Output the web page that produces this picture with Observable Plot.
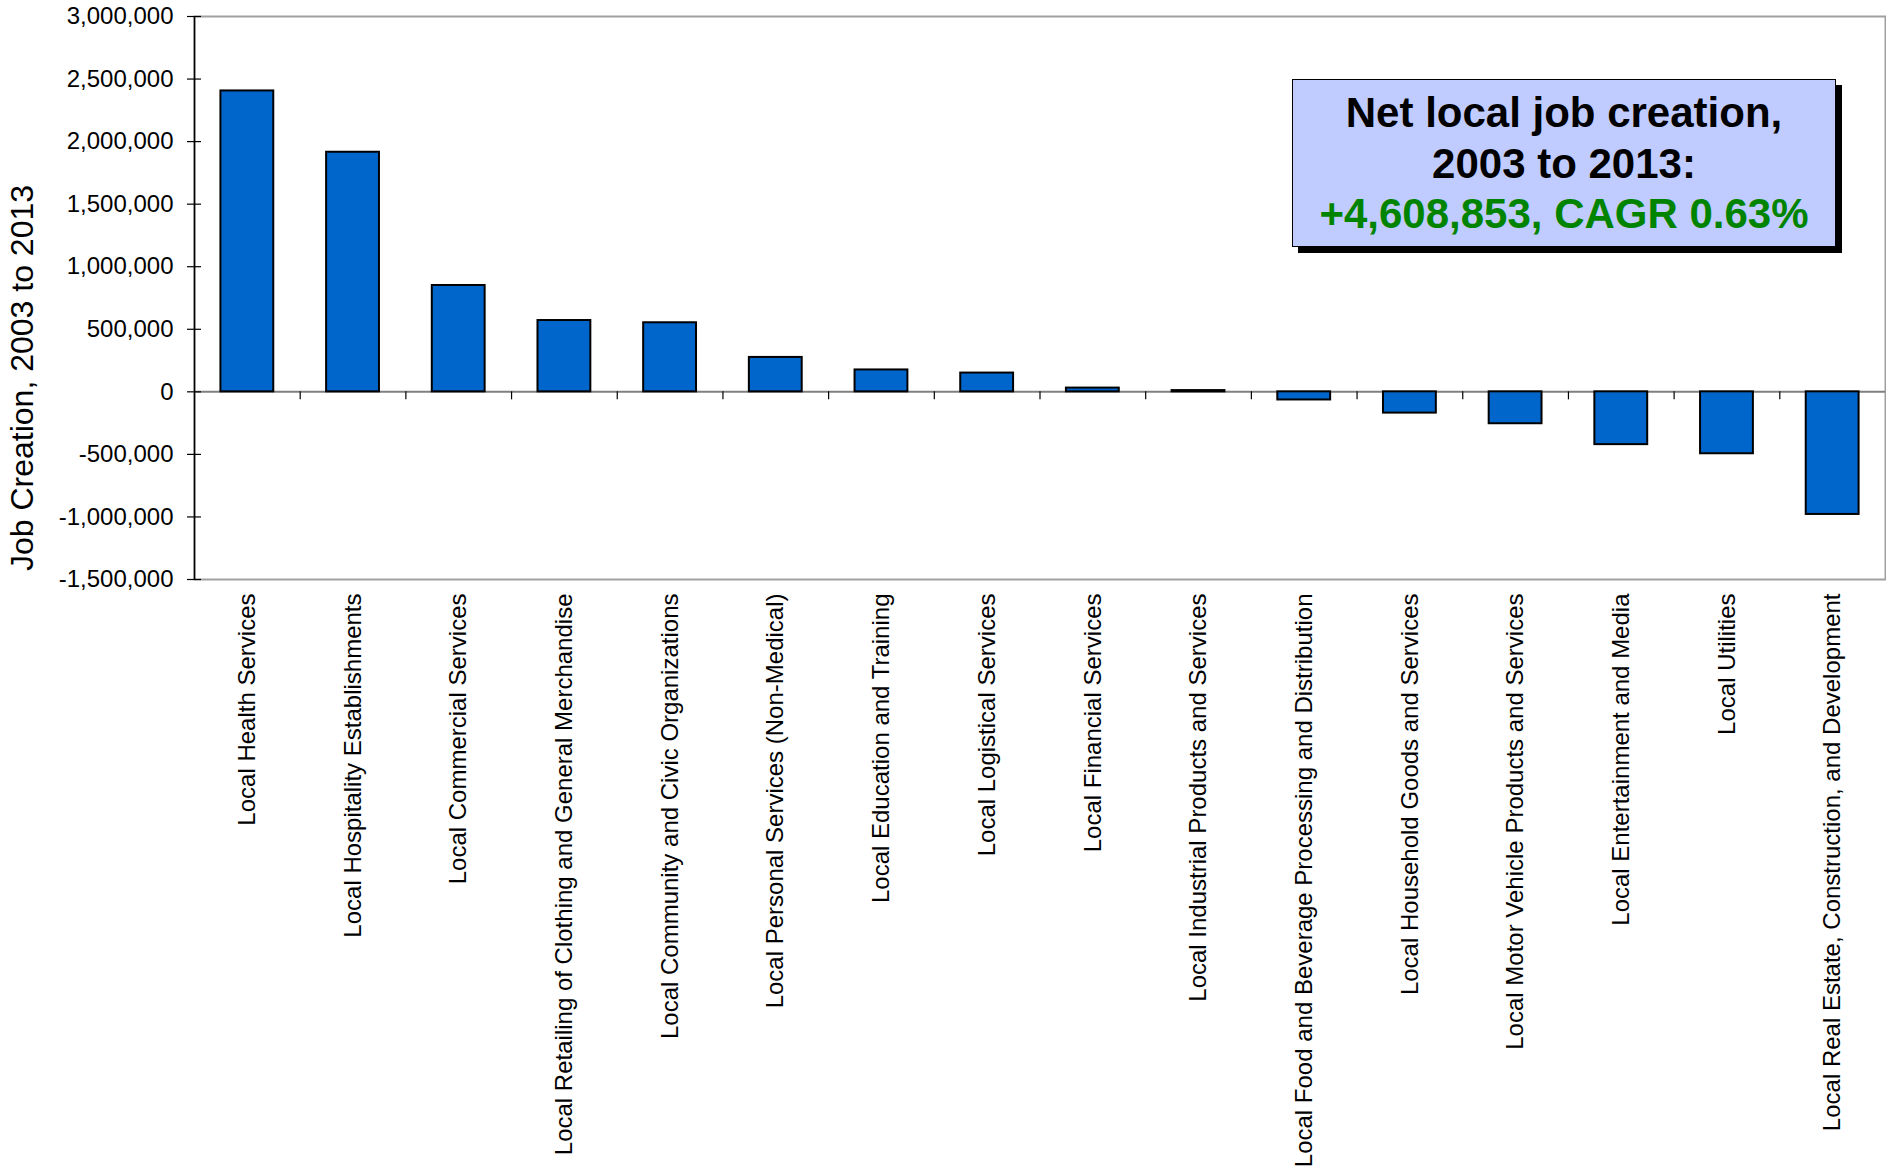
<!DOCTYPE html>
<html>
<head>
<meta charset="utf-8">
<script src="https://cdn.jsdelivr.net/npm/d3@7"></script>
<script src="https://cdn.jsdelivr.net/npm/@observablehq/plot@0.6"></script>
<style>
  html, body { margin: 0; padding: 0; background: white; overflow: hidden; }
  #wrap { position: relative; width: 1886px; height: 1168px; }
  #wrap svg { display: block; }
  #note {
    position: absolute; left: 1292px; top: 79px; width: 542px; height: 158px;
    background: #C0CCFF; border: 1.5px solid #000; box-shadow: 6px 6px 0 #000;
    font-family: "Liberation Sans", Arial, sans-serif; font-weight: bold; font-size: 42px;
    line-height: 50.5px; text-align: center; padding-top: 8px; box-sizing: content-box;
  }
  #note .g { color: #008400; }
</style>
</head>
<body>
<div id="wrap"></div>
<script>
const categories = [
  "Local Health Services",
  "Local Hospitality Establishments",
  "Local Commercial Services",
  "Local Retailing of Clothing and General Merchandise",
  "Local Community and Civic Organizations",
  "Local Personal Services (Non-Medical)",
  "Local Education and Training",
  "Local Logistical Services",
  "Local Financial Services",
  "Local Industrial Products and Services",
  "Local Food and Beverage Processing and Distribution",
  "Local Household Goods and Services",
  "Local Motor Vehicle Products and Services",
  "Local Entertainment and Media",
  "Local Utilities",
  "Local Real Estate, Construction, and Development"
];
const values = [2405000, 1915000, 850000, 570000, 552000, 275000, 175000, 150000, 30000, 10000, -65000, -170000, -255000, -422000, -495000, -980000];
const yTicks = [-1500000, -1000000, -500000, 0, 500000, 1000000, 1500000, 2000000, 2500000, 3000000];
const yTitle = "Job Creation, 2003 to 2013";
const noteLines = ["Net local job creation,", "2003 to 2013:", "+4,608,853, CAGR 0.63%"];

const data = categories.map((name, i) => ({name, value: values[i]}));

const W = 1886, H = 1168, mL = 194, mR = 1, mT = 16, mB = H - 579;
const plotW = W - mL - mR;
const step = plotW / categories.length;

const chart = Plot.plot({
  width: W, height: H,
  marginLeft: mL, marginRight: mR, marginTop: mT, marginBottom: mB,
  style: {fontFamily: "'Liberation Sans', Arial, sans-serif", background: "white", color: "black", overflow: "visible"},
  x: {domain: categories, paddingInner: 0.5, paddingOuter: 0.25, round: false},
  y: {domain: [-1500000, 3000000]},
  marks: [
    Plot.frame({stroke: "#A0A0A0", strokeWidth: 2}),
    Plot.ruleY([0], {stroke: "#808080", strokeWidth: 2}),
    Plot.barY(data, {x: "name", y: "value", fill: "#0066CC", stroke: "black", strokeWidth: 2}),
    Plot.ruleX(categories.slice(1), {x: d => d, y1: 0, y2: 0, insetBottom: -8, dx: -step / 2, stroke: "black", strokeWidth: 1.2}),
    Plot.ruleX(categories.slice(0, 1), {x: d => d, dx: -step / 2, stroke: "black", strokeWidth: 1.5}),
    Plot.ruleY(yTicks, {y: d => d, insetRight: plotW - 7, stroke: "black", strokeWidth: 1.2}),
    Plot.axisY(yTicks, {tickSize: 7, tickPadding: 14, fontSize: 24, label: null, strokeWidth: 1.2,
      tickFormat: d => d.toLocaleString("en-US")}),
    Plot.axisX({anchor: "bottom", tickSize: 0, tickPadding: 14, tickRotate: -90, fontSize: 24, label: null}),
    Plot.text([yTitle], {text: d => d, frameAnchor: "left", textAnchor: "middle", rotate: -90, dx: -172, dy: 80, fontSize: 32})
  ]
});

const wrap = document.getElementById("wrap");
wrap.appendChild(chart);
const note = document.createElement("div");
note.id = "note";
note.innerHTML = `<div>${noteLines[0]}</div><div>${noteLines[1]}</div><div class="g">${noteLines[2]}</div>`;
wrap.appendChild(note);
</script>
</body>
</html>
